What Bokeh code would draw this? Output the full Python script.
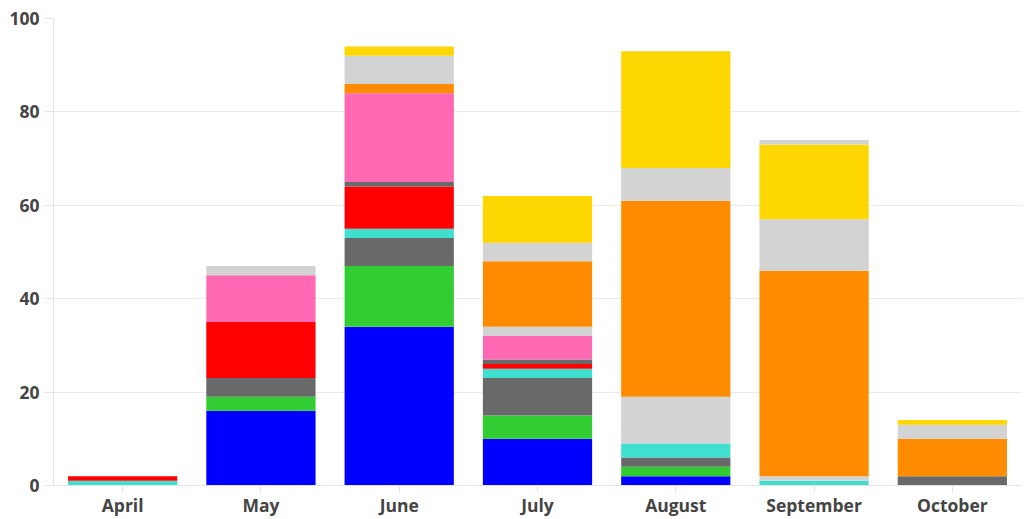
from bokeh.plotting import figure
from bokeh.models import FactorRange, Range1d, FixedTicker
from bokeh.embed import file_html
from bokeh.resources import INLINE

months = ["April", "May", "June", "July", "August", "September", "October"]

blue = [0, 16, 34, 10, 2, 0, 0]
green = [0, 3, 13, 5, 2, 0, 0]
gray_a = [0, 4, 6, 8, 2, 0, 2]
turquoise = [1, 0, 2, 2, 3, 1, 0]
red = [1, 12, 9, 1, 0, 0, 0]
gray_b = [0, 0, 1, 1, 0, 0, 0]
pink = [0, 10, 19, 5, 0, 0, 0]
lgray_a = [0, 0, 0, 2, 10, 1, 0]
orange = [0, 0, 2, 14, 42, 44, 8]
lgray_b = [0, 2, 6, 2, 7, 11, 3]
lgray_c = [0, 0, 0, 2, 0, 0, 0]
gold = [0, 0, 2, 10, 25, 16, 1]
lgray_d = [0, 0, 0, 0, 0, 1, 0]

series_names = ["blue", "green", "gray_a", "turquoise", "red", "gray_b", "pink",
                "lgray_a", "orange", "lgray_b", "lgray_c", "gold", "lgray_d"]
series_values = [blue, green, gray_a, turquoise, red, gray_b, pink,
                 lgray_a, orange, lgray_b, lgray_c, gold, lgray_d]
series_colors = ["#0000ff", "#32cd32", "#696969", "#40e0d0", "#ff0000", "#696969", "#ff69b4",
                 "#d3d3d3", "#ff8c00", "#d3d3d3", "#d3d3d3", "#ffd700", "#d3d3d3"]
y_ticks = [0, 20, 40, 60, 80, 100]

data = {"month": months}
for n, v in zip(series_names, series_values):
    data[n] = v

p = figure(x_range=FactorRange(*months), y_range=Range1d(0, 100),
           width=1022, height=519, output_backend="svg", toolbar_location=None,
           min_border_left=53, min_border_right=1, min_border_top=18, min_border_bottom=34)

p.vbar_stack(series_names, x="month", width=0.79, color=series_colors, line_color=None,
             source=data)

p.outline_line_color = None
p.background_fill_color = "white"
p.border_fill_color = "white"
p.xgrid.grid_line_color = None
p.ygrid.grid_line_color = "#ebebeb"
p.ygrid.grid_line_width = 1
p.yaxis.ticker = FixedTicker(ticks=y_ticks)
p.x_range.range_padding = 0
p.x_range.group_padding = 0

for ax in (p.xaxis[0], p.yaxis[0]):
    ax.axis_line_color = "#e3e3e3"
    ax.major_tick_line_color = "#e3e3e3"
    ax.minor_tick_line_color = None
    ax.major_tick_in = 0
    ax.major_label_text_font = "Open Sans"
    ax.major_label_text_font_style = "bold"
    ax.major_label_text_font_size = "17.5px"
    ax.major_label_text_color = "#444444"

p.yaxis.major_tick_out = 9
p.yaxis.major_label_standoff = 5
p.xaxis.major_tick_out = 7
p.xaxis.major_label_standoff = 0

open("out.html", "w").write(file_html(p, INLINE))
